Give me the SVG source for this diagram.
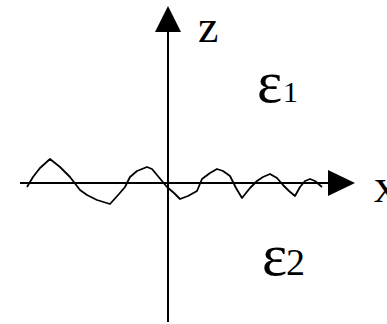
<svg xmlns="http://www.w3.org/2000/svg" width="387" height="324" viewBox="0 0 387 324">
<style>
.ax{stroke:#000;stroke-width:2;fill:none}
.wave{stroke:#000;stroke-width:1.8;fill:none;stroke-linejoin:round}
text{font-family:"Liberation Serif","Times New Roman",serif;fill:#000}
</style>
<rect width="387" height="324" fill="#fff"/>
<g id="connectors">
<line class="ax" x1="20" y1="183" x2="330" y2="183"/>
<polygon points="328,170 355,183 328,196" fill="#000"/>
<line class="ax" x1="168" y1="322" x2="168" y2="30"/>
<polygon points="155,32 168,6 181,32" fill="#000"/>
</g>
<g id="interface">
<polyline class="wave" points="27,187 33,177 40,168 50,159 60,167 70,177 80,190 87,195 97,200 110,204 119,194 125,187 130,177 137,171 147,167 152,169 157,175 162,181 167,187 174,193 180,199 188,196 197,191 202,179 210,173 217,169 223,171 230,176 236,188 242,198 250,188 257,181 263,177 270,174 277,178 283,185 289,191 295,196 300,187 305,181 310,179 315,181 322,187"/>
</g>
<g id="labels">
<text x="198" y="42" font-size="46">z</text>
<text x="374" y="202" font-size="48">x</text>
<text x="257" y="102" font-size="60">ε</text>
<text x="283" y="102" font-size="30">1</text>
<text x="262" y="275" font-size="60">ε</text>
<text x="286" y="275" font-size="38">2</text>
</g>
</svg>
